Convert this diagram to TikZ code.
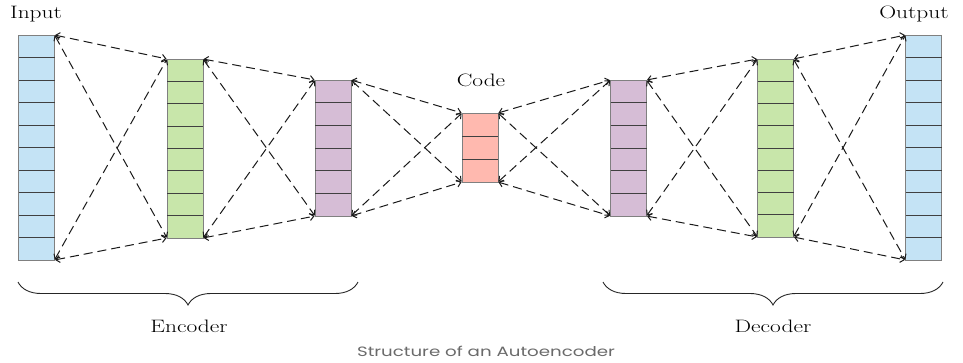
\documentclass[tikz,border=0pt]{standalone}
\usepackage{fontspec}
\newfontfamily\capfont{Poppins}
\usetikzlibrary{arrows.meta,calc,decorations.pathreplacing}
\definecolor{cblue}{HTML}{C4E3F5}
\definecolor{cgreen}{HTML}{C8E6AA}
\definecolor{cpurple}{HTML}{D6BDD6}
\definecolor{csalmon}{HTML}{FFB9AF}
\definecolor{capgray}{HTML}{6A6A6A}
\tikzset{
  layerbox/.style={draw=black!50,line width=0.9pt,minimum width=36pt,inner sep=0pt,outer sep=0pt},
  divider/.style={draw=black!75,line width=0.8pt},
  conn/.style={draw=black!90,line width=1pt,dash pattern=on 9pt off 5pt,
    {Straight Barb[length=4pt,width=7pt]}-{Straight Barb[length=4pt,width=7pt]},shorten <=0.5pt,shorten >=0.5pt},
  lbl/.style={font=\fontsize{18}{22}\selectfont,inner sep=0pt},
  bracestyle/.style={draw=black!85,line width=0.9pt,decorate,decoration={brace,mirror,amplitude=23pt}}
}
\newcommand\wide[1]{\scalebox{1.3}[1]{#1}}
\newcommand\mylayer[6]{%
  \node[layerbox,fill=#6,minimum height=#4pt] (#1) at (#2,#3) {};
  \foreach \k in {1,...,\numexpr#5-1\relax}{
    \draw[divider] ($(#1.north west)!\k/#5!(#1.south west)$) -- ($(#1.north east)!\k/#5!(#1.south east)$);
  }
}
\begin{document}
\begin{tikzpicture}[x=1pt,y=-1pt]
\useasboundingbox (0,0) rectangle (963,362);
\mylayer{in}{36.5}{147.5}{225}{10}{cblue}
\mylayer{ga}{185}{148.5}{179}{8}{cgreen}
\mylayer{pa}{333}{148}{136}{6}{cpurple}
\mylayer{cd}{480}{147.5}{69}{3}{csalmon}
\mylayer{pb}{628.5}{148}{136}{6}{cpurple}
\mylayer{gb}{775.5}{148}{178}{8}{cgreen}
\mylayer{out}{923.5}{147.5}{225}{10}{cblue}
\foreach \a/\b in {in/ga,ga/pa,pa/cd,cd/pb,pb/gb,gb/out}{
  \draw[conn] (\a.north east) -- (\b.north west);
  \draw[conn] (\a.north east) -- (\b.south west);
  \draw[conn] (\a.south east) -- (\b.north west);
  \draw[conn] (\a.south east) -- (\b.south west);
}
\node[lbl] (tin) at (36,14) {\wide{Input}};
\node[lbl] (tcode) at (481,80) {\wide{Code}};
\node[lbl] (tout) at (914,14) {\wide{Output}};
\coordinate (ea) at (18,282);
\coordinate (eb) at (358,282);
\coordinate (da) at (603,282);
\coordinate (db) at (943,282);
\draw[bracestyle] (ea) -- (eb);
\draw[bracestyle] (da) -- (db);
\node[lbl] (tenc) at (189,326) {\wide{Encoder}};
\node[lbl] (tdec) at (773,326) {\wide{Decoder}};
\node[font=\capfont\fontsize{13.5}{16}\selectfont,text=capgray,inner sep=0pt] (cap) at (486,351) {\scalebox{1.35}[1]{Structure of an Autoencoder}};
\end{tikzpicture}
\end{document}
